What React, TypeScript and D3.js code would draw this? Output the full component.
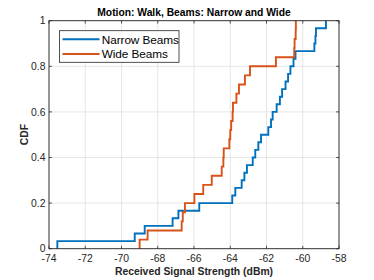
import React from "react";
import * as d3 from "d3";

// received signal strength samples (dBm), sorted
const narrowBeams = [
  -73.54, -69.27, -68.72, -67.18, -66.86, -65.71, -63.89, -63.72, -63.37, -63.22,
  -63.08, -62.76, -62.62, -62.45, -62.3, -61.9, -61.75, -61.66, -61.44, -61.26,
  -61.14, -60.95, -60.81, -60.68, -60.51, -60.4, -59.36, -59.3, -59.27, -58.72,
];
const wideBeams = [
  -69.0, -68.56, -66.68, -66.62, -66.5, -65.98, -65.49, -65.02, -64.47, -64.38,
  -64.36, -64.05, -64.0, -63.95, -63.87, -63.85, -63.66, -63.52, -63.19, -62.91,
  -61.48, -60.47, -60.45, -60.39, -60.38,
];
const seriesNames = ["Narrow Beams", "Wide Beams"];
const xTicks = [-74, -72, -70, -68, -66, -64, -62, -60, -58];
const yTicks = [0, 0.2, 0.4, 0.6, 0.8, 1];

const colors = ["#0072BD", "#D95319"];
const font = "'Liberation Sans', Arial, Helvetica, sans-serif";
const axisColor = "#262626";
const gridColor = "#dfdfdf";

const W = 374;
const H = 280;
const left = 49;
const right = 339;
const top = 20.7;
const bottom = 248.7;

export default function App() {
  const x = d3.scaleLinear().domain([-74, -58]).range([left, right]);
  const y = d3.scaleLinear().domain([0, 1]).range([bottom, top]);

  const line = d3
    .line<[number, number]>()
    .x((d) => x(d[0]))
    .y((d) => y(d[1]))
    .curve(d3.curveStepAfter);

  // empirical cdf: start at 0 on the first sample, step up 1/n at each one
  const cdfPoints = (vals: number[]): [number, number][] => {
    const n = vals.length;
    const pts: [number, number][] = [[vals[0], 0]];
    vals.forEach((v, i) => pts.push([v, (i + 1) / n]));
    return pts;
  };

  const series = [narrowBeams, wideBeams];
  const tickLen = 2.9;
  const legendWidths = [77, 66];

  return (
    <svg
      width={W}
      height={H}
      style={{ position: "absolute", left: 0, top: 0, background: "#fff" }}
      fontFamily={font}
    >
      <rect x={0} y={0} width={W} height={H} fill="#fff" />

      {/* grid */}
      {xTicks.map((t) => (
        <line key={"gx" + t} x1={x(t)} x2={x(t)} y1={top} y2={bottom} stroke={gridColor} strokeWidth={0.8} />
      ))}
      {yTicks.map((t) => (
        <line key={"gy" + t} x1={left} x2={right} y1={y(t)} y2={y(t)} stroke={gridColor} strokeWidth={0.8} />
      ))}

      {/* cdf stairs */}
      {series.map((s, i) => (
        <path key={i} d={line(cdfPoints(s)) || ""} fill="none" stroke={colors[i]} strokeWidth={1.9} />
      ))}

      {/* box and ticks */}
      <rect x={left} y={top} width={right - left} height={bottom - top} fill="none" stroke={axisColor} strokeWidth={0.9} />
      {xTicks.map((t) => (
        <g key={"tx" + t}>
          <line x1={x(t)} x2={x(t)} y1={bottom} y2={bottom - tickLen} stroke={axisColor} strokeWidth={0.8} />
          <line x1={x(t)} x2={x(t)} y1={top} y2={top + tickLen} stroke={axisColor} strokeWidth={0.8} />
          <text x={x(t)} y={262} textAnchor="middle" fontSize={10.4} fill={axisColor}>
            {t}
          </text>
        </g>
      ))}
      {yTicks.map((t) => (
        <g key={"ty" + t}>
          <line x1={left} x2={left + tickLen} y1={y(t)} y2={y(t)} stroke={axisColor} strokeWidth={0.8} />
          <line x1={right} x2={right - tickLen} y1={y(t)} y2={y(t)} stroke={axisColor} strokeWidth={0.8} />
          <text x={45.5} y={y(t) + 3.7} textAnchor="end" fontSize={10.4} fill={axisColor}>
            {String(t)}
          </text>
        </g>
      ))}

      {/* labels */}
      <text x={(left + right) / 2} y={16.3} textAnchor="middle" fontSize={10.3} fontWeight="bold" fill="#000">
        Motion: Walk, Beams: Narrow and Wide
      </text>
      <text x={(left + right) / 2} y={274.5} textAnchor="middle" fontSize={10.4} fontWeight="bold" fill={axisColor}>
        Received Signal Strength (dBm)
      </text>
      <text
        transform={`translate(27.5, ${(top + bottom) / 2}) rotate(-90)`}
        textAnchor="middle"
        fontSize={10.4}
        fontWeight="bold"
        fill={axisColor}
      >
        CDF
      </text>

      {/* legend */}
      <rect x={59.5} y={30.7} width={119.5} height={31.6} fill="#fff" stroke={axisColor} strokeWidth={0.8} />
      {seriesNames.map((name, i) => (
        <g key={name}>
          <line x1={62.5} x2={99.5} y1={39.3 + i * 14.7} y2={39.3 + i * 14.7} stroke={colors[i]} strokeWidth={1.9} />
          <text
            x={101.8}
            y={39.3 + i * 14.7 + 4.2}
            fontSize={11.8}
            fill="#000"
            textLength={legendWidths[i]}
            lengthAdjust="spacing"
          >
            {name}
          </text>
        </g>
      ))}
    </svg>
  );
}
